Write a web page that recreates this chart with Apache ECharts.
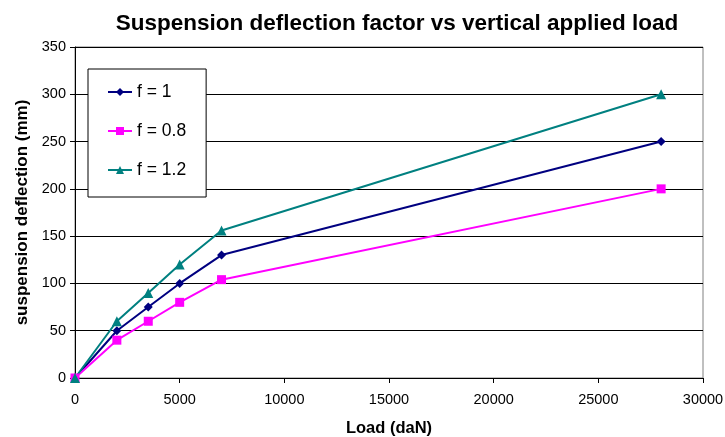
<!DOCTYPE html>
<html lang="en">
<head>
    <meta charset="UTF-8">
    <title>Suspension deflection factor vs vertical applied load</title>
    <script type="text/javascript" src="https://cdn.jsdelivr.net/npm/echarts@6/dist/echarts.min.js"></script>
</head>
<body style="margin:0;background:#fff;">
<div id="line" style="width:725px;height:437px;"></div>
<script>
    // load values (daN)
    var loads = [0, 2000, 3500, 5000, 7000, 28000];
    var f1 = [0, 50, 75, 100, 130, 250];
    var f08 = [0, 40, 60, 80, 104, 200];
    var f12 = [0, 60, 90, 120, 156, 300];
    var seriesNames = ['f = 1', 'f = 0.8', 'f = 1.2'];

    function pairs(ys) {
        return loads.map(function (x, i) { return [x, ys[i]]; });
    }

    var font = 'Liberation Sans, Arial, sans-serif';
    var option = {
        animation: false,
        backgroundColor: '#fff',
        title: {
            text: 'Suspension deflection factor vs vertical applied load',
            left: 392, top: 7, textAlign: 'center',
            textStyle: {fontFamily: font, fontSize: 22.5, fontWeight: 'bold', color: '#000'}
        },
        grid: {
            left: 75, right: 22, top: 47, bottom: 59,
            outerBoundsMode: 'none', containLabel: false,
            show: true, borderColor: '#808080', borderWidth: 1
        },
        legend: {
            orient: 'vertical', left: 88, top: 69,
            padding: [14, 20, 18, 19], itemGap: 21,
            itemWidth: 24, itemHeight: 10,
            borderColor: '#000', borderWidth: 1, backgroundColor: '#fff',
            textStyle: {fontFamily: font, fontSize: 17.5, color: '#000'},
            data: seriesNames
        },
        xAxis: {
            type: 'value', min: 0, max: 30000, interval: 5000,
            name: 'Load (daN)', nameLocation: 'middle', nameGap: 42,
            nameTextStyle: {fontFamily: font, fontSize: 16.5, fontWeight: 'bold', color: '#000'},
            axisLine: {show: true, lineStyle: {color: '#000'}},
            axisTick: {show: true, length: 5, lineStyle: {color: '#000'}},
            axisLabel: {
                fontFamily: font, fontSize: 14.5, color: '#000', margin: 14,
                formatter: function (v) { return String(v); }
            },
            splitLine: {show: false}
        },
        yAxis: {
            type: 'value', min: 0, max: 350, interval: 50,
            name: 'suspension deflection (mm)', nameLocation: 'middle', nameGap: 44,
            nameTextStyle: {fontFamily: font, fontSize: 17, fontWeight: 'bold', color: '#000'},
            axisLine: {show: true, lineStyle: {color: '#000'}},
            axisTick: {show: true, length: 5, lineStyle: {color: '#000'}},
            axisLabel: {fontFamily: font, fontSize: 14.5, color: '#000', margin: 9},
            splitLine: {show: true, lineStyle: {color: '#000', width: 1}}
        },
        series: [{
            name: seriesNames[0], type: 'line', data: pairs(f1),
            symbol: 'diamond', symbolSize: 9,
            lineStyle: {color: '#000080', width: 2},
            itemStyle: {color: '#000080'}
        }, {
            name: seriesNames[1], type: 'line', data: pairs(f08),
            symbol: 'rect', symbolSize: 9,
            lineStyle: {color: '#ff00ff', width: 2},
            itemStyle: {color: '#ff00ff'}
        }, {
            name: seriesNames[2], type: 'line', data: pairs(f12),
            symbol: 'triangle', symbolSize: 10,
            lineStyle: {color: '#008080', width: 2},
            itemStyle: {color: '#008080'}
        }]
    };
    var myChart = echarts.init(document.getElementById('line'));
    myChart.setOption(option);
</script>
</body>
</html>
